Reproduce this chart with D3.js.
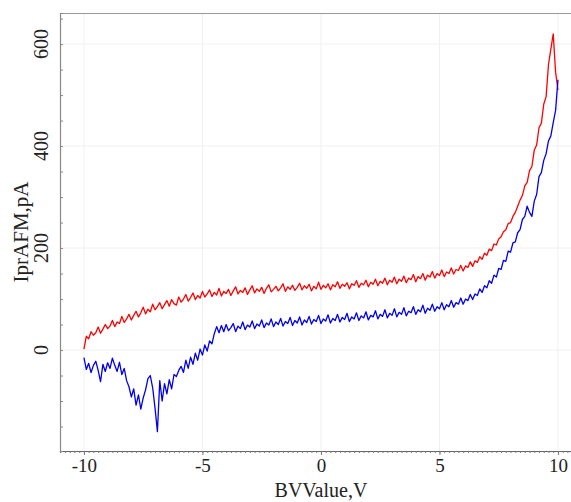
<!DOCTYPE html>
<html>
<head>
<meta charset="utf-8">
<script src="https://cdn.jsdelivr.net/npm/d3@7"></script>
<style>
  html, body { margin: 0; padding: 0; background: #fff; }
  svg { display: block; }
  text { font-family: "Liberation Serif", "Times New Roman", serif; fill: #222; }
</style>
</head>
<body>
<svg id="chart" width="571" height="502"></svg>
<script>
// Bias sweep from -10 V to +10 V, sampled every 0.1 V
const sweepStart = -10;
const sweepStep = 0.1;

// Current on the forward sweep, pA
const currentForward = [
  2, 27, 22, 36, 29, 34, 45, 33, 41, 50,
  42, 47, 58, 46, 55, 52, 66, 54, 61, 70,
  59, 68, 76, 65, 73, 84, 71, 80, 75, 90,
  79, 85, 93, 81, 89, 97, 86, 99, 91, 88,
  104, 94, 100, 109, 96, 103, 112, 99, 107, 102,
  115, 104, 110, 118, 105, 113, 108, 121, 106, 115,
  111, 119, 107, 116, 124, 110, 117, 113, 122, 109,
  118, 126, 112, 120, 115, 123, 111, 121, 128, 114,
  119, 125, 116, 122, 130, 115, 124, 119, 127, 117,
  123, 131, 118, 126, 121, 129, 116, 125, 120, 133,
  119, 127, 122, 130, 118, 128, 124, 134, 121, 129,
  125, 132, 120, 130, 127, 136, 123, 131, 128, 137,
  124, 133, 129, 139, 126, 135, 131, 141, 128, 137,
  133, 143, 130, 139, 135, 145, 132, 141, 138, 148,
  134, 144, 140, 150, 137, 147, 143, 154, 141, 150,
  146, 157, 144, 153, 150, 161, 149, 158, 156, 166,
  155, 165, 162, 173, 164, 175, 172, 183, 178, 190,
  186, 198, 195, 208, 206, 218, 222, 232, 236, 248,
  250, 262, 270, 282, 294, 303, 322, 329, 352, 360,
  392, 402, 436, 445, 482, 497, 560, 590, 620, 545,
  510
];

// Current on the return sweep, pA
const currentReturn = [
  -15, -38, -26, -44, -30, -22, -40, -62, -28, -42,
  -25, -36, -16, -30, -42, -24, -48, -36, -60, -72,
  -92, -76, -108, -88, -116, -94, -78, -56, -50, -74,
  -114, -160, -60, -100, -66, -86, -58, -76, -48, -52,
  -40, -32, -44, -20, -36, -14, -28, -6, -20, 2,
  -10, 10, -2, 18, 12, 32, 46, 34, 48, 36,
  50, 38, 44, 52, 36, 47, 42, 55, 40, 49,
  45, 57, 42, 51, 47, 59, 44, 53, 49, 61,
  46, 55, 50, 62, 47, 56, 52, 64, 48, 58,
  53, 65, 49, 59, 54, 66, 51, 60, 56, 68,
  52, 61, 57, 69, 53, 62, 58, 70, 55, 64,
  60, 72, 56, 65, 61, 73, 58, 67, 63, 75,
  59, 68, 65, 77, 61, 70, 66, 79, 63, 72,
  68, 81, 65, 74, 70, 83, 67, 76, 73, 85,
  70, 79, 75, 88, 72, 82, 78, 90, 76, 85,
  81, 93, 79, 89, 85, 97, 84, 93, 90, 102,
  90, 100, 97, 109, 99, 110, 107, 120, 113, 126,
  122, 136, 131, 147, 143, 160, 158, 176, 174, 194,
  192, 210, 212, 230, 236, 256, 262, 282, 270, 262,
  292, 305, 340, 348, 372, 385, 410, 420, 446, 470,
  530
];

const xMajorTicks = [-10, -5, 0, 5, 10];
const yMajorTicks = [0, 200, 400, 600];
const xTitle = "BVValue,V";
const yTitle = "IprAFM,pA";

const svg = d3.select("#chart");
const W = 571, H = 502;
const margin = { left: 60, top: 13, right: 0, bottom: 51 };
const plotW = W - margin.left - margin.right;
const plotH = H - margin.top - margin.bottom;

const x = d3.scaleLinear().domain([-11.01, 10.55]).range([0, plotW]);
const y = d3.scaleLinear().domain([-198, 661]).range([plotH, 0]);

const g = svg.append("g").attr("transform", `translate(${margin.left},${margin.top})`);

// faint grid at the major ticks
g.append("g").selectAll("line").data(xMajorTicks).join("line")
  .attr("x1", d => x(d)).attr("x2", d => x(d))
  .attr("y1", 0).attr("y2", plotH)
  .attr("stroke", "#f0f0f0").attr("stroke-width", 1);
g.append("g").selectAll("line").data(yMajorTicks).join("line")
  .attr("x1", 0).attr("x2", plotW)
  .attr("y1", d => y(d)).attr("y2", d => y(d))
  .attr("stroke", "#f0f0f0").attr("stroke-width", 1);

// frame: top edge
g.append("line").attr("x1", 0).attr("x2", plotW).attr("y1", 0.5).attr("y2", 0.5)
  .attr("stroke", "#999").attr("stroke-width", 1.2);

// x axis with dense minor ticks
const xMinor = d3.range(-11, 10.6, 0.2).filter(v => v >= x.domain()[0] && v <= x.domain()[1]);
const xAxis = d3.axisBottom(x).tickValues(xMinor).tickSize(2).tickFormat("");
const gx = g.append("g").attr("transform", `translate(0,${plotH})`).call(xAxis);
gx.select(".domain").attr("stroke", "#666").attr("stroke-width", 1.2);
gx.selectAll(".tick line").attr("stroke", "#777");
const xMaj = d3.axisBottom(x).tickValues(xMajorTicks).tickSize(4).tickPadding(3)
  .tickFormat(d3.format("d"));
const gx2 = g.append("g").attr("transform", `translate(0,${plotH})`).call(xMaj);
gx2.select(".domain").remove();
gx2.selectAll(".tick line").attr("stroke", "#777");
gx2.selectAll(".tick text").attr("font-size", 19).attr("fill", "#222")
  .attr("font-family", "Liberation Serif, serif").attr("dy", "0.72em")
  .text(d => d < 0 ? "-" + Math.abs(d) : d);

// y axis: minor ticks every 50, labels rotated
const yMinor = d3.range(-150, 651, 50);
const yAxis = d3.axisLeft(y).tickValues(yMinor).tickSize(-3).tickFormat("");
const gy = g.append("g").call(yAxis);
gy.select(".domain").attr("stroke", "#888").attr("stroke-width", 1.2);
gy.selectAll(".tick line").attr("stroke", "#888");

g.append("g").selectAll("text").data(yMajorTicks).join("text")
  .attr("transform", d => `translate(-12,${y(d)}) rotate(-90)`)
  .attr("text-anchor", "middle")
  .attr("font-size", 20)
  .text(d => d);

// curves
const line = d3.line()
  .x((d, i) => x(sweepStart + i * sweepStep))
  .y(d => y(d));

g.append("path").datum(currentForward)
  .attr("d", line).attr("fill", "none")
  .attr("stroke", "#ff0000").attr("stroke-width", 1.3).attr("stroke-linejoin", "round");
g.append("path").datum(currentReturn)
  .attr("d", line).attr("fill", "none")
  .attr("stroke", "#0000ee").attr("stroke-width", 1.3).attr("stroke-linejoin", "round");

// axis titles
svg.append("text")
  .attr("x", margin.left + x(0)).attr("y", 497)
  .attr("text-anchor", "middle").attr("font-size", 20)
  .text(xTitle);
svg.append("text")
  .attr("transform", `translate(28,${margin.top + plotH / 2}) rotate(-90)`)
  .attr("text-anchor", "middle").attr("font-size", 21)
  .text(yTitle);
</script>
</body>
</html>
